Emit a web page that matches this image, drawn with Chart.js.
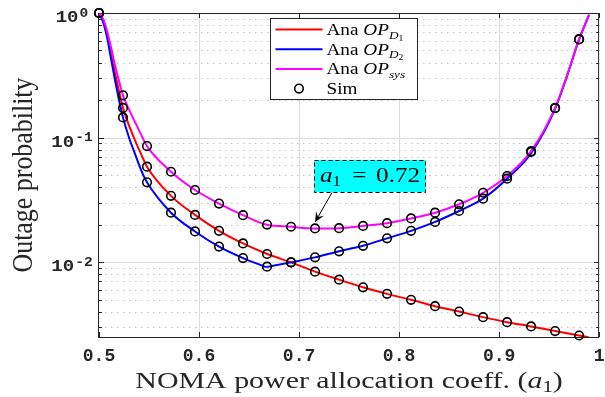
<!DOCTYPE html>
<html>
<head>
<meta charset="utf-8">
<script src="https://cdn.jsdelivr.net/npm/chart.js@4.4.1/dist/chart.umd.min.js"></script>
<style>
  html, body { margin: 0; padding: 0; background: #fff; }
</style>
</head>
<body>
<canvas id="outageChart" width="605" height="397"></canvas>
<script>
// ============================== DATA ==============================
// simulation markers
const simA1    = [0.5, 0.524, 0.548, 0.572, 0.596, 0.62, 0.644, 0.668, 0.692, 0.716, 0.74,
                  0.764, 0.788, 0.812, 0.836, 0.86, 0.884, 0.908, 0.932, 0.956, 0.98];
const simOPD1  = [1.0, 0.173, 0.0583, 0.034, 0.0239, 0.0178, 0.0141, 0.0116, 0.00994, 0.00837, 0.00722,
                  0.00627, 0.00555, 0.00497, 0.00442, 0.0040, 0.00361, 0.00329, 0.00304, 0.00279, 0.00257];
const simOPD2  = [1.0, 0.145, 0.0437, 0.0249, 0.0176, 0.0133, 0.01076, 0.00918, 0.00994, 0.0109, 0.0122,
                  0.0135, 0.0155, 0.0178, 0.021, 0.0257, 0.0323, 0.0467, 0.0765, 0.172, 0.614];
const simOPsys = [1.0, 0.218, 0.0853, 0.0531, 0.0379, 0.0295, 0.0238, 0.0200, 0.0192, 0.0186, 0.0187,
                  0.0195, 0.0205, 0.0224, 0.0249, 0.0291, 0.036, 0.049, 0.0777, 0.173, 0.616];

// analytical curves
const anaA1    = [0.5, 0.504, 0.508, 0.512, 0.516, 0.52, 0.524, 0.53, 0.536, 0.542, 0.548,
                  0.572, 0.596, 0.62, 0.644, 0.667, 0.692, 0.716, 0.74, 0.764, 0.788,
                  0.812, 0.836, 0.86, 0.884, 0.908, 0.932, 0.956, 0.968, 0.98, 0.99];
const anaOPD1  = [1.0, 0.88, 0.68, 0.48, 0.33, 0.235, 0.173, 0.125, 0.095, 0.074, 0.0583,
                  0.034, 0.0239, 0.0178, 0.0141, 0.0117, 0.00994, 0.00837, 0.00722, 0.00627, 0.00555,
                  0.00497, 0.00442, 0.0040, 0.00361, 0.00329, 0.00304, 0.00279, 0.00268, 0.00257, 0.00248];
const anaOPD2  = [1.0, 0.85, 0.64, 0.43, 0.29, 0.2, 0.145, 0.10, 0.074, 0.055, 0.0437,
                  0.0249, 0.0176, 0.0133, 0.01076, 0.0091, 0.00994, 0.0109, 0.0122, 0.0135, 0.0155,
                  0.0178, 0.021, 0.0257, 0.0323, 0.0467, 0.0748, 0.170, 0.313, 0.613, 0.967];
const anaOPsys = [1.0, 0.9, 0.72, 0.53, 0.38, 0.285, 0.218, 0.168, 0.133, 0.106, 0.0853,
                  0.0531, 0.0379, 0.0295, 0.0238, 0.0200, 0.0192, 0.0186, 0.0187, 0.0195, 0.0205,
                  0.0224, 0.0249, 0.0291, 0.036, 0.049, 0.0777, 0.173, 0.316, 0.616, 0.97];
const kinkA1 = 0.667; // OP_D2 has a corner here

// axes
const xTicks    = [0.5, 0.6, 0.7, 0.8, 0.9, 1];
const yDecades  = [1, 0.1, 0.01];
const yExponent = ['0', '-1', '-2'];
const yMinor    = [0.003, 0.004, 0.005, 0.006, 0.007, 0.008, 0.009,
                   0.02, 0.03, 0.04, 0.05, 0.06, 0.07, 0.08, 0.09,
                   0.2, 0.3, 0.4, 0.5, 0.6, 0.7, 0.8, 0.9];
const yMin = 0.0025, yMax = 1;

// annotation (a1 = 0.72)
const noteA1 = 0.771, noteOP = 0.049;
const arrowFrom = [0.733, 0.0362];
const arrowTo   = [0.716, 0.0209];

// ============================== helpers ==============================
const AXIS = '#262626';
const SERIF = '"Liberation Serif", serif';
const MONO = '"Liberation Mono", monospace';

function pts(xs, ys) {
    return xs.map((x, i) => ({ x: x, y: ys[i] }));
}

function partsWidth(ctx, parts) {
    let w = 0;
    parts.forEach(p => {
        if (p.gap) { w += p.gap; return; }
        ctx.font = p.font;
        w += ctx.measureText(p.t).width;
    });
    return w;
}

// draws pieces of rich text (italic, subscripts) along one baseline
function drawParts(ctx, parts, x, y, sx) {
    ctx.save();
    ctx.translate(x, y);
    ctx.scale(sx, 1);
    ctx.textAlign = 'left';
    ctx.textBaseline = 'alphabetic';
    let cx = 0;
    parts.forEach(p => {
        if (p.gap) { cx += p.gap; return; }
        ctx.font = p.font;
        ctx.fillText(p.t, cx, p.dy || 0);
        cx += ctx.measureText(p.t).width;
    });
    ctx.restore();
}

function hline(ctx, x1, x2, y) {
    ctx.beginPath(); ctx.moveTo(x1, y); ctx.lineTo(x2, y); ctx.stroke();
}
function vline(ctx, x, y1, y2) {
    ctx.beginPath(); ctx.moveTo(x, y1); ctx.lineTo(x, y2); ctx.stroke();
}

// ============================== plugins ==============================
const framePlugin = {
    id: 'frame',
    beforeDatasetsDraw(chart) {
        const { ctx, chartArea: a, scales: { x, y } } = chart;
        ctx.save();
        ctx.lineWidth = 1;

        // minor grid (dotted)
        ctx.strokeStyle = '#c2c2c2';
        ctx.setLineDash([1.5, 4.5]);
        yMinor.forEach(v => {
            const py = Math.round(y.getPixelForValue(v)) + 0.5;
            hline(ctx, a.left, a.right, py);
        });

        // major grid
        ctx.setLineDash([]);
        ctx.strokeStyle = '#dcdcdc';
        xTicks.forEach(v => {
            if (v <= x.min || v >= x.max) return;
            vline(ctx, Math.round(x.getPixelForValue(v)) + 0.5, a.top, a.bottom);
        });
        yDecades.forEach(v => {
            if (v <= yMin || v >= yMax) return;
            hline(ctx, a.left, a.right, Math.round(y.getPixelForValue(v)) + 0.5);
        });

        // box and inward ticks
        ctx.strokeStyle = AXIS;
        ctx.strokeRect(a.left - 0.5, a.top + 0.5, a.right - a.left, a.bottom - a.top);
        xTicks.forEach(v => {
            const px = Math.round(x.getPixelForValue(v)) + 0.5;
            vline(ctx, px, a.bottom, a.bottom - 5);
            vline(ctx, px, a.top, a.top + 5);
        });
        yDecades.forEach(v => {
            const py = Math.round(y.getPixelForValue(v)) + 0.5;
            hline(ctx, a.left, a.left + 5, py);
            hline(ctx, a.right, a.right - 5, py);
        });
        yMinor.forEach(v => {
            const py = Math.round(y.getPixelForValue(v)) + 0.5;
            hline(ctx, a.left, a.left + 3, py);
            hline(ctx, a.right, a.right - 3, py);
        });

        // y tick labels 10^n
        ctx.fillStyle = AXIS;
        yDecades.forEach((v, i) => {
            const py = y.getPixelForValue(v);
            const parts = [
                { t: '10', font: 'bold 17px ' + MONO },
                { gap: 1 },
                { t: yExponent[i], font: 'bold 13px ' + MONO, dy: -5.5 }
            ];
            const w = partsWidth(ctx, parts) * 1.12;
            drawParts(ctx, parts, 72 - w / 2, py + 9, 1.12);
        });

        // axis titles
        ctx.fillStyle = AXIS;
        const xt = [
            { t: 'NOMA power allocation coeff. (', font: '23px ' + SERIF },
            { t: 'a', font: 'italic 23px ' + SERIF },
            { t: '1', font: '16px ' + SERIF, dy: 4 },
            { t: ')', font: '23px ' + SERIF }
        ];
        const xsx = 1.3;
        const xw = partsWidth(ctx, xt) * xsx;
        drawParts(ctx, xt, (a.left + a.right) / 2 - xw / 2, 388, xsx);

        ctx.save();
        ctx.translate(32, (a.top + a.bottom) / 2);
        ctx.scale(1.19, 1);
        ctx.rotate(-Math.PI / 2);
        ctx.font = '24px ' + SERIF;
        ctx.textAlign = 'center';
        ctx.textBaseline = 'alphabetic';
        ctx.scale(1.08, 1);
        ctx.fillText('Outage probability', 0, 0);
        ctx.restore();

        ctx.restore();
    },
    afterDatasetsDraw(chart) {
        const { ctx, chartArea: a, scales: { x, y } } = chart;
        ctx.save();

        // ---------- legend ----------
        const bx = a.left + 171.5, by = a.top + 5.5, bw = 147, bh = 81;
        ctx.fillStyle = '#fff';
        ctx.fillRect(bx, by, bw, bh);
        ctx.strokeStyle = AXIS;
        ctx.lineWidth = 1;
        ctx.strokeRect(bx, by, bw, bh);

        const f = '16px ' + SERIF, fi = 'italic 16px ' + SERIF;
        const fs = 'italic 11px ' + SERIF, fss = '8px ' + SERIF;
        const rows = [
            { color: '#ff0000', parts: [{ t: 'Ana ', font: f }, { t: 'OP', font: fi }, { t: 'D', font: fs, dy: 3.5 }, { t: '1', font: fss, dy: 5.5 }] },
            { color: '#0000ff', parts: [{ t: 'Ana ', font: f }, { t: 'OP', font: fi }, { t: 'D', font: fs, dy: 3.5 }, { t: '2', font: fss, dy: 5.5 }] },
            { color: '#ff00ff', parts: [{ t: 'Ana ', font: f }, { t: 'OP', font: fi }, { t: 'sys', font: fs, dy: 3.5 }] },
            { color: null, parts: [{ t: 'Sim', font: f }] }
        ];
        rows.forEach((r, i) => {
            const ry = by + 11 + i * 19.7;
            if (r.color) {
                ctx.strokeStyle = r.color;
                ctx.lineWidth = 2;
                hline(ctx, bx + 5, bx + 52, ry);
            } else {
                ctx.strokeStyle = '#000';
                ctx.lineWidth = 1.6;
                ctx.beginPath();
                ctx.arc(bx + 28.5, ry, 4.3, 0, Math.PI * 2);
                ctx.stroke();
            }
            ctx.fillStyle = '#000';
            drawParts(ctx, r.parts, bx + 56, ry + 5.5, 1.2);
        });

        // ---------- annotation ----------
        const tx = x.getPixelForValue(arrowTo[0]), ty = y.getPixelForValue(arrowTo[1]);
        const fx = x.getPixelForValue(arrowFrom[0]), fy = y.getPixelForValue(arrowFrom[1]);
        const ang = Math.atan2(ty - fy, tx - fx);
        const ux = Math.cos(ang), uy = Math.sin(ang), nx = -uy, ny = ux;
        const L = 10, W = 4.5;
        ctx.strokeStyle = '#000';
        ctx.lineWidth = 1;
        ctx.beginPath();
        ctx.moveTo(fx, fy);
        ctx.lineTo(tx - 0.6 * L * ux, ty - 0.6 * L * uy);
        ctx.stroke();
        ctx.fillStyle = '#000';
        ctx.beginPath();
        ctx.moveTo(tx, ty);
        ctx.lineTo(tx - L * ux + W * nx, ty - L * uy + W * ny);
        ctx.lineTo(tx - 0.6 * L * ux, ty - 0.6 * L * uy);
        ctx.lineTo(tx - L * ux - W * nx, ty - L * uy - W * ny);
        ctx.closePath();
        ctx.fill();

        const note = [
            { t: 'a', font: 'italic 21px ' + SERIF },
            { t: '1', font: '14px ' + SERIF, dy: 4 },
            { gap: 9.5 },
            { t: '=', font: '21px ' + SERIF },
            { gap: 8 },
            { t: '0.72', font: '21px ' + SERIF }
        ];
        const nsx = 1.2;
        const nw = partsWidth(ctx, note) * nsx;
        const ncx = x.getPixelForValue(noteA1), ncy = y.getPixelForValue(noteOP);
        const boxW = nw + 11, boxH = 32;
        ctx.fillStyle = '#00ffff';
        ctx.fillRect(ncx - boxW / 2, ncy - boxH / 2, boxW, boxH);
        ctx.setLineDash([4, 3]);
        ctx.strokeStyle = '#000';
        ctx.strokeRect(Math.round(ncx - boxW / 2) + 0.5, Math.round(ncy - boxH / 2) + 0.5, Math.round(boxW), boxH);
        ctx.setLineDash([]);
        ctx.fillStyle = '#000';
        drawParts(ctx, note, ncx - nw / 2, ncy + 6, nsx);

        ctx.restore();
    }
};

// ============================== chart ==============================
const kinkIdx = anaA1.indexOf(kinkA1);

function lineSet(label, data, color, order) {
    return {
        label: label, data: data, order: order,
        borderColor: color, borderWidth: 2, pointRadius: 0,
        fill: false, cubicInterpolationMode: 'monotone'
    };
}
function markerSet(label, data) {
    return {
        label: label, data: data, order: 0, showLine: false, clip: false,
        pointRadius: 4.3, pointBorderWidth: 1.6, pointBorderColor: '#000',
        pointBackgroundColor: 'rgba(0,0,0,0)'
    };
}

const ctxMain = document.getElementById('outageChart').getContext('2d');
new Chart(ctxMain, {
    type: 'line',
    data: {
        datasets: [
            markerSet('Sim OP_sys', pts(simA1, simOPsys)),
            markerSet('Sim OP_D1', pts(simA1, simOPD1)),
            markerSet('Sim OP_D2', pts(simA1, simOPD2)),
            lineSet('Ana OP_sys', pts(anaA1, anaOPsys), '#ff00ff', 1),
            lineSet('Ana OP_D2', pts(anaA1.slice(0, kinkIdx + 1), anaOPD2.slice(0, kinkIdx + 1)), '#0000ff', 2),
            lineSet('Ana OP_D2 ', pts(anaA1.slice(kinkIdx), anaOPD2.slice(kinkIdx)), '#0000ff', 2),
            lineSet('Ana OP_D1', pts(anaA1, anaOPD1), '#ff0000', 3)
        ]
    },
    options: {
        responsive: false,
        animation: false,
        devicePixelRatio: 1,
        layout: { padding: { top: 13, right: 3, left: 0, bottom: 0 } },
        plugins: { legend: { display: false }, tooltip: { enabled: false } },
        scales: {
            x: {
                type: 'linear', min: 0.5, max: 1,
                afterBuildTicks: scale => { scale.ticks = xTicks.map(v => ({ value: v })); },
                afterFit: scale => {
                    scale.height = 60;
                    scale.paddingLeft = 0;
                    scale.paddingRight = 0;
                },
                grid: { display: false, drawTicks: false },
                border: { display: false },
                ticks: {
                    autoSkip: false, maxRotation: 0, padding: 9, color: AXIS,
                    font: { family: 'Liberation Mono', size: 18, weight: 'bold' },
                    callback: v => String(v)
                }
            },
            y: {
                type: 'logarithmic', min: yMin, max: yMax,
                afterFit: scale => { scale.width = 99; },
                grid: { display: false, drawTicks: false },
                border: { display: false },
                ticks: { display: false }
            }
        }
    },
    plugins: [framePlugin]
});
</script>
</body>
</html>
